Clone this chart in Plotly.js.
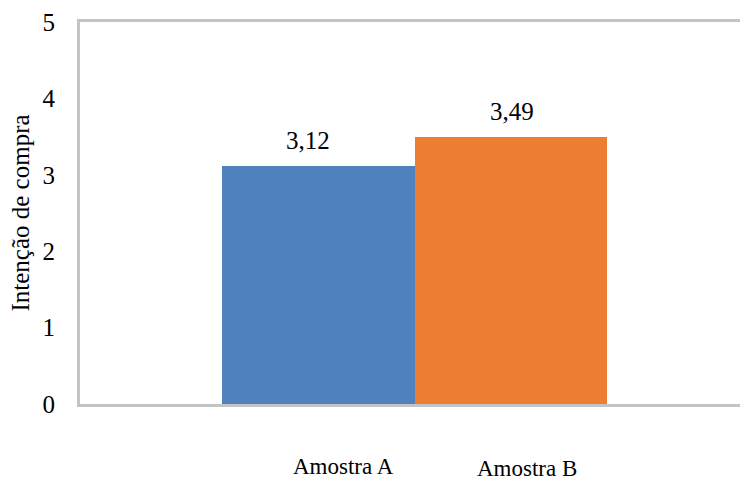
<!DOCTYPE html>
<html>
<head>
<meta charset="utf-8">
<script src="https://cdn.plot.ly/plotly-3.0.1.min.js"></script>
<style>html,body{margin:0;padding:0;background:#fff;}#chart{width:740px;height:482px;}</style>
</head>
<body>
<div id="chart"></div>
<script>
// Data
var categories = ["Amostra A", "Amostra B"];
var values = [3.12, 3.49];
var barColors = ["#4F81BD", "#ED7D31"];
var yTitle = "Intenção de compra";
var yTickVals = [0, 1, 2, 3, 4, 5];

var font = "Liberation Serif, Times New Roman, serif";

function fmt(v) { return v.toFixed(2).replace(".", ","); }

var labelShiftX = [-11, 1];
var labelShiftY = [25, 26];
var catShiftX = [24.5, 16];
var catShiftY = [-62, -64];

var annotations = [];
for (var i = 0; i < categories.length; i++) {
  annotations.push({
    x: categories[i], y: values[i], xref: "x", yref: "y",
    text: fmt(values[i]), showarrow: false,
    xshift: labelShiftX[i], yshift: labelShiftY[i],
    xanchor: "center", yanchor: "middle",
    font: {family: font, size: 25, color: "#000"}
  });
  annotations.push({
    x: categories[i], y: 0, xref: "x", yref: "y",
    text: categories[i], showarrow: false,
    xshift: catShiftX[i], yshift: catShiftY[i],
    xanchor: "center", yanchor: "middle",
    font: {family: font, size: 23, color: "#000"}
  });
}

var trace = {
  type: "bar",
  x: categories,
  y: values,
  marker: {color: barColors, line: {width: 0}},
  hoverinfo: "none"
};

var layout = {
  width: 740, height: 482,
  margin: {l: 80, r: 0, t: 22, b: 78, pad: 0},
  paper_bgcolor: "#fff", plot_bgcolor: "#fff",
  showlegend: false,
  bargap: 0,
  separators: ",.",
  font: {family: font, size: 23, color: "#000"},
  xaxis: {
    type: "category",
    range: [-1.239, 2.1896],
    showticklabels: false,
    ticks: "",
    showgrid: false,
    zeroline: false,
    showline: true, linecolor: "#c4c4c4", linewidth: 3,
    mirror: true,
    fixedrange: true
  },
  yaxis: {
    range: [0, 5],
    tickvals: yTickVals,
    ticktext: yTickVals.map(String),
    showgrid: false,
    zeroline: false,
    showline: true, linecolor: "#c4c4c4", linewidth: 3,
    ticks: "",
    ticklabelstandoff: 17,
    tickfont: {family: font, size: 25, color: "#000"},
    title: {text: yTitle, font: {family: font, size: 25, color: "#000"}, standoff: 6},
    automargin: false,
    fixedrange: true
  },
  annotations: annotations
};

Plotly.newPlot("chart", [trace], layout, {displayModeBar: false, staticPlot: true});
</script>
</body>
</html>
